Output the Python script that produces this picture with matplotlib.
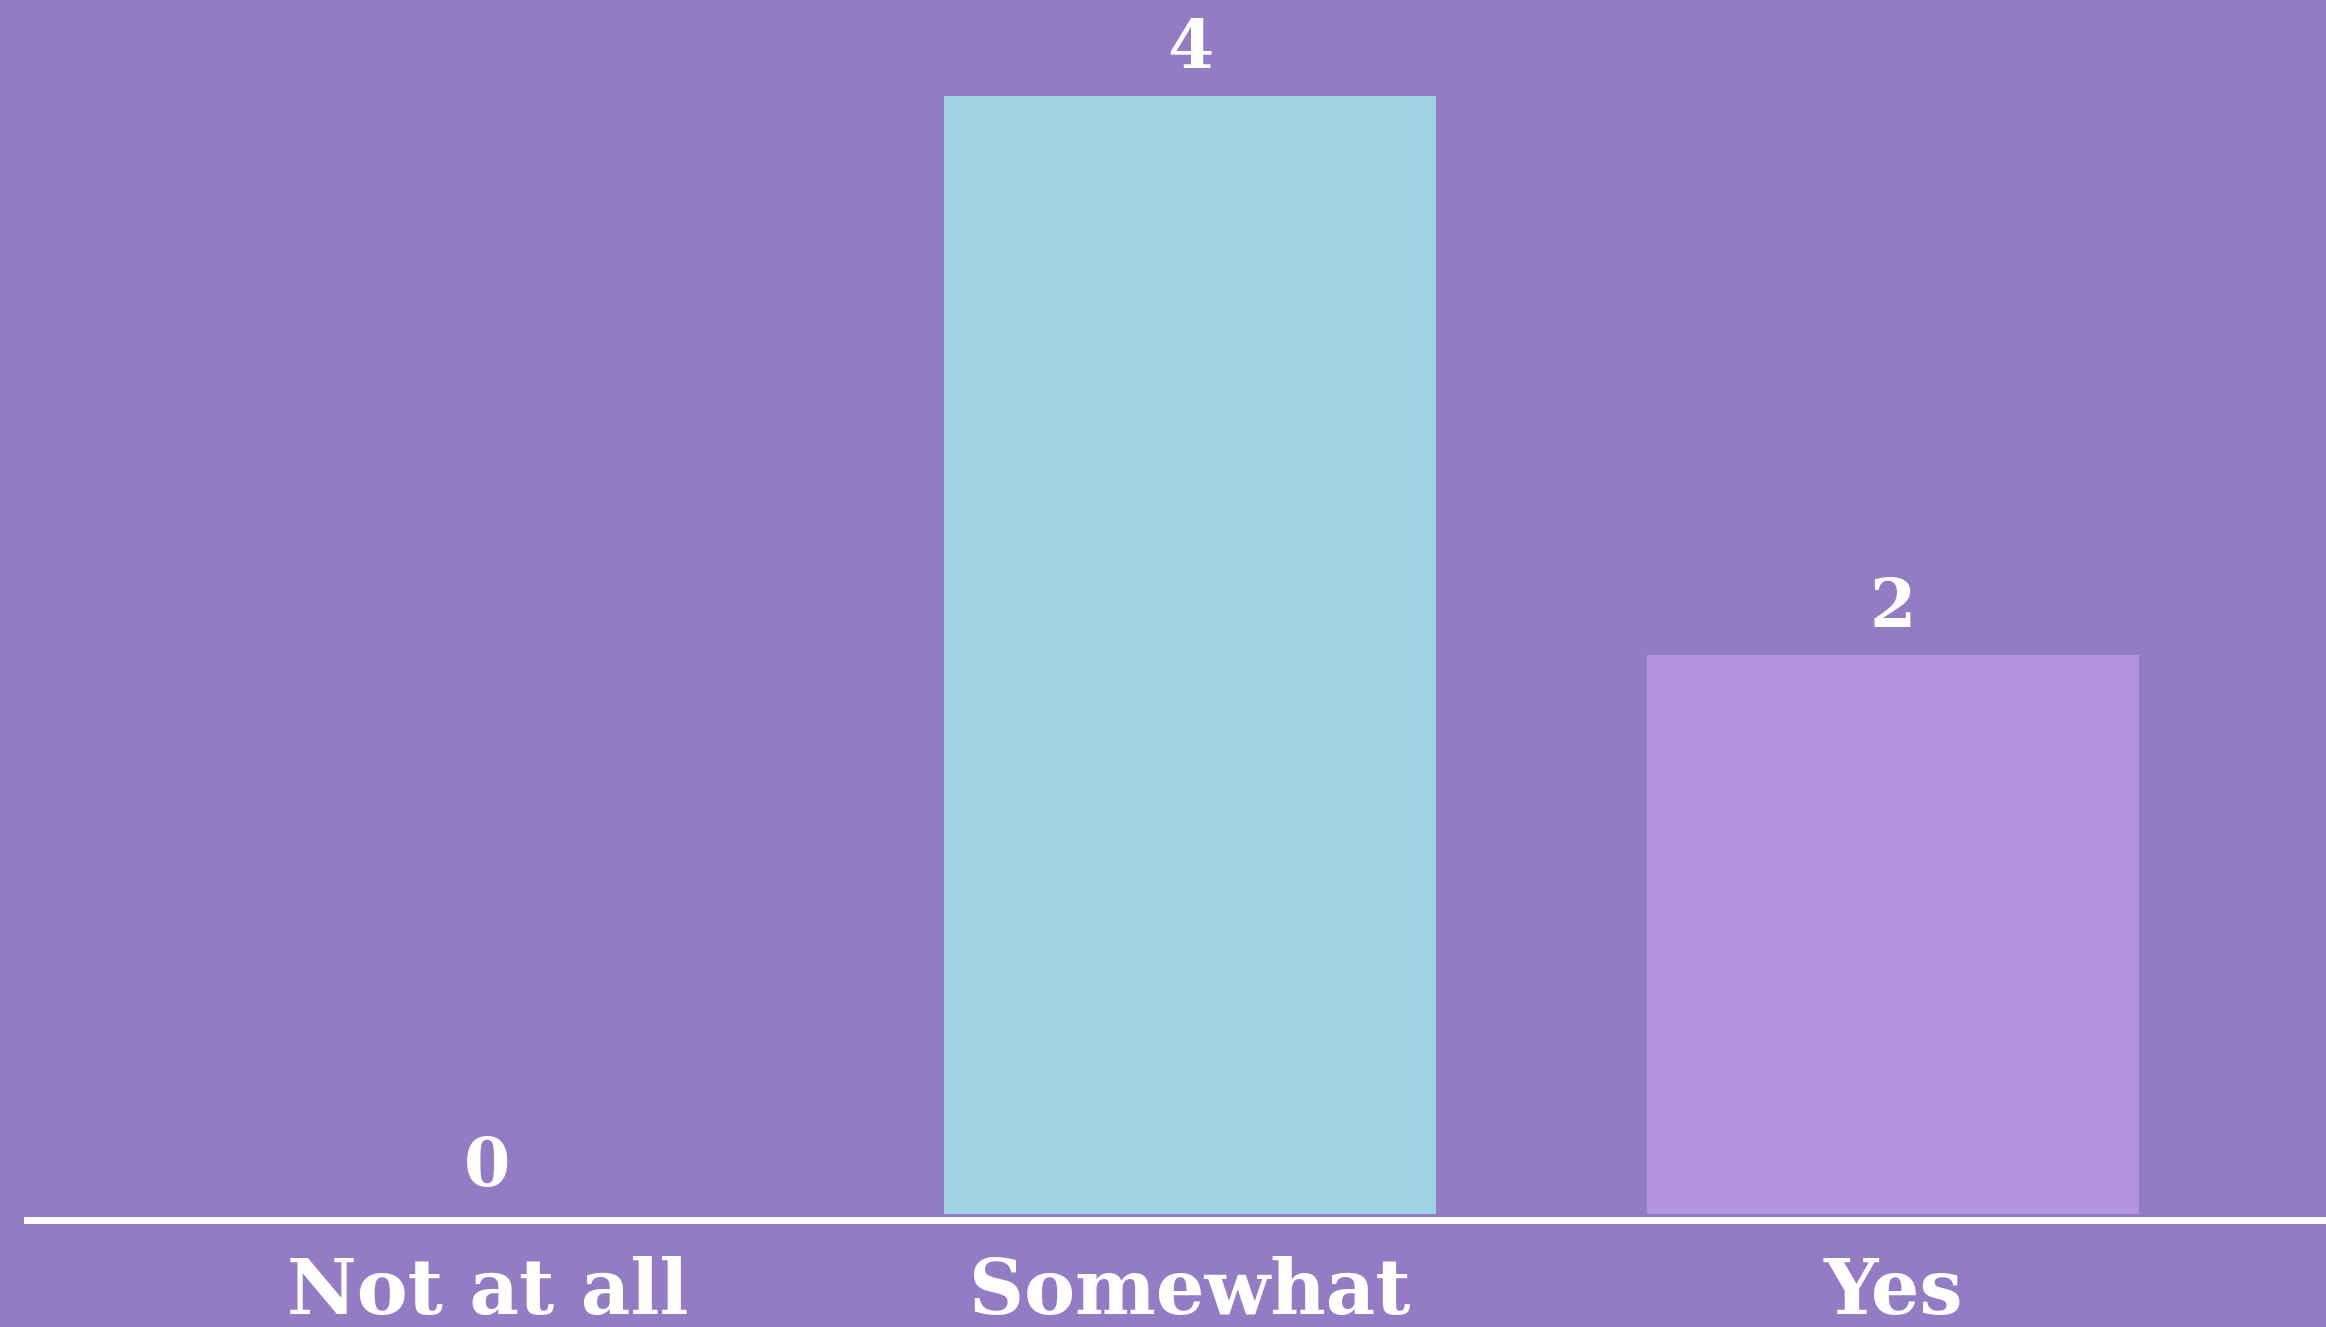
import matplotlib.pyplot as plt

categories = ["Not at all", "Somewhat", "Yes"]
counts = [0, 4, 2]
bar_colors = ["#9FD3E4", "#9FD3E4", "#B494E2"]

bg = "#937CC4"
font = "DejaVu Serif"

W, H = 2326, 1327
fig = plt.figure(figsize=(W / 100, H / 100), dpi=100, facecolor=bg)
ax = fig.add_axes([27 / W, 113 / H, 1 - 27 / W, 1214 / H])
ax.set_facecolor(bg)

x = list(range(len(categories)))
ax.bar(x, counts, width=0.70, color=bar_colors)
ax.set_xlim(-0.655, 2.616)
ax.set_ylim(0, 4.343)

# baseline
ax.axhline(-0.02, color="white", linewidth=5, clip_on=False)

for xi, v in zip(x, counts):
    ax.text(xi, v + 0.1, str(v), ha="center", va="baseline", color="white",
            fontsize=48, fontweight="bold", family=font)

ax.set_xticks(x)
ax.set_xticklabels(categories, color="white", fontsize=55, fontweight="bold", family=font)
ax.tick_params(axis="x", length=0, pad=30)
ax.set_yticks([])
for s in ax.spines.values():
    s.set_visible(False)

fig.savefig("out.png", dpi=100, facecolor=bg)
